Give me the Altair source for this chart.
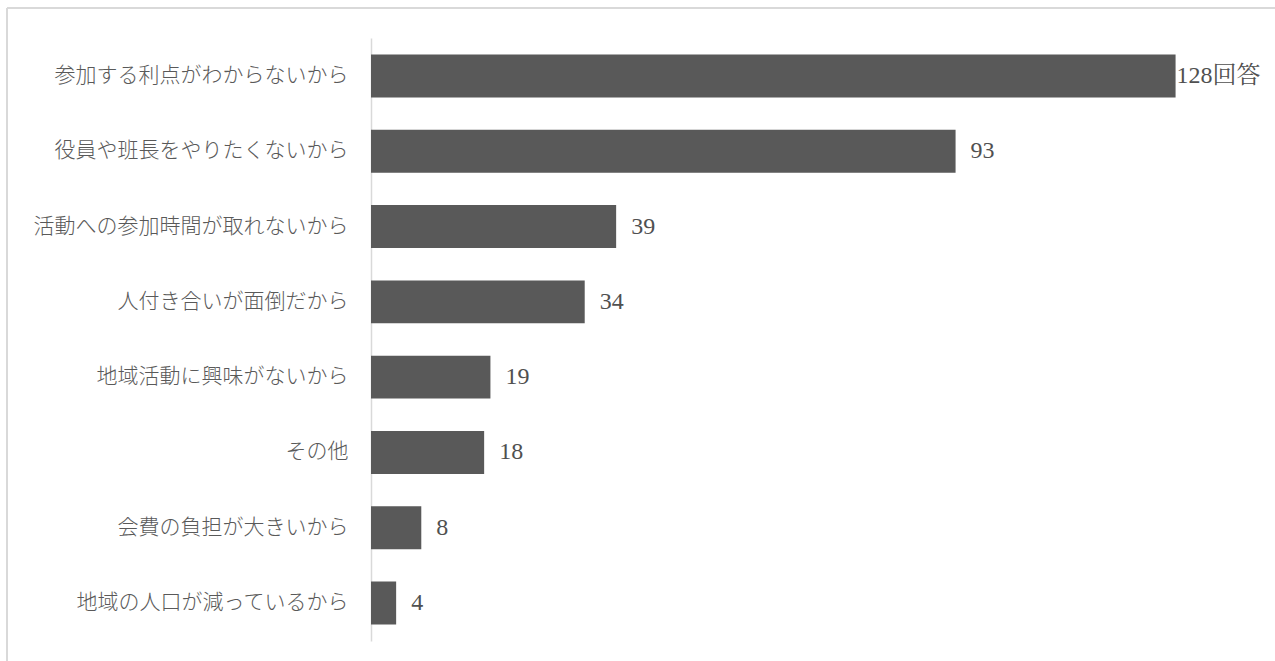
import altair as alt
import pandas as pd

categories = [
    "参加する利点がわからないから",
    "役員や班長をやりたくないから",
    "活動への参加時間が取れないから",
    "人付き合いが面倒だから",
    "地域活動に興味がないから",
    "その他",
    "会費の負担が大きいから",
    "地域の人口が減っているから",
]
values = [128, 93, 39, 34, 19, 18, 8, 4]
labels = ["128回答", "93", "39", "34", "19", "18", "8", "4"]

df = pd.DataFrame({"cat": categories, "val": values, "label": labels,
                   "first": [i == 0 for i in range(len(values))]})

W, H = 880, 603
PL, PT = 371, 38

y = alt.Y("cat:N", sort=categories, title=None,
          scale=alt.Scale(paddingInner=0.43, paddingOuter=0.22),
          axis=alt.Axis(ticks=False, labelPadding=23, labelFontSize=21,
                        labelFont="Noto Sans CJK JP", labelFontWeight=300,
                        labelColor="#595959",
                        domainColor="#d9d9d9", domainWidth=1.5, labelLimit=400))
x = alt.X("val:Q", title=None, scale=alt.Scale(domain=[0, 140], nice=False),
          axis=None)

bars = alt.Chart(df).mark_bar(color="#595959").encode(x=x, y=y)

num_font = "Liberation Serif, 'Noto Serif CJK JP', serif"
text_first = alt.Chart(df).transform_filter("datum.first").mark_text(
    align="left", baseline="middle", dx=1, fontSize=24, font=num_font,
    color="#505050").encode(x=x, y=y, text="label:N")
text_rest = alt.Chart(df).transform_filter("!datum.first").mark_text(
    align="left", baseline="middle", dx=15, fontSize=24, font=num_font,
    color="#505050").encode(x=x, y=y, text="label:N")

frame_top = alt.Chart(df).mark_rule(color="#d9d9d9", strokeWidth=1.5).encode(
    x=alt.value(-364), x2=alt.value(W + 30), y=alt.value(-30))
frame_left = alt.Chart(df).mark_rule(color="#d9d9d9", strokeWidth=1.5).encode(
    x=alt.value(-364), y=alt.value(-30), y2=alt.value(H + 40))

chart = alt.layer(frame_top, frame_left, bars, text_first, text_rest).properties(
    width=W, height=H,
    autosize=alt.AutoSizeParams(type="none"),
    padding={"left": PL, "top": PT, "right": 1275 - PL - W, "bottom": 661 - PT - H},
    background="white",
).configure_view(stroke=None)

chart.save("out.html", embed_options={"renderer": "svg", "actions": False})
